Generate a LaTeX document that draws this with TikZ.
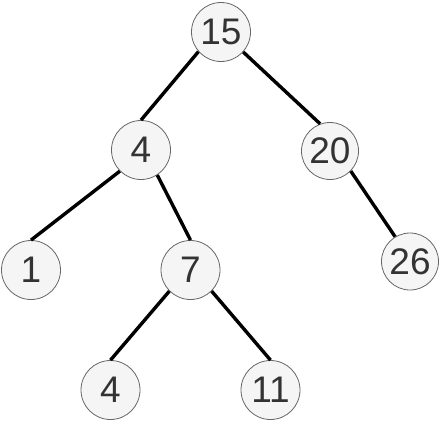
\documentclass[tikz,border=0pt]{standalone}
\usepackage{fontspec}
\setmainfont{Liberation Sans}
\definecolor{nodefill}{HTML}{F5F5F5}
\definecolor{nodeline}{HTML}{666666}
\definecolor{nodetext}{HTML}{333333}
\begin{document}
\begin{tikzpicture}[x=1pt,y=-1pt,
  treenode/.style={circle,draw=nodeline,fill=nodefill,line width=0.8pt,
    minimum size=59pt,inner sep=0pt,text=nodetext,
    font=\fontsize{37}{37}\selectfont},
  smallnode/.style={treenode,minimum size=57pt},
  edge/.style={line width=3.4pt,black}]
\useasboundingbox (0,0) rectangle (441,421);
\node[treenode] (n15) at (221,32) {15};
\node[treenode] (n4) at (141,150) {4};
\node[smallnode] (n20) at (330,151) {20};
\node[treenode] (n1) at (31,270) {1};
\node[treenode] (n7) at (190.5,270) {7};
\node[smallnode] (n26) at (410,261.5) {26};
\node[treenode] (n4b) at (110.5,390) {4};
\node[treenode] (n11) at (270.5,390) {11};
\draw[edge] (n15.-139) -- (n4.north);
\draw[edge] (n15.-42) -- (n20.110);
\draw[edge] (n4.-135) -- (n1.north);
\draw[edge] (n4.-57) -- (n7.north);
\draw[edge] (n7.-135) -- (n4b.north);
\draw[edge] (n7.-45) -- (n11.north);
\draw[edge] (n20.-44) -- (n26.121);
\end{tikzpicture}
\end{document}
